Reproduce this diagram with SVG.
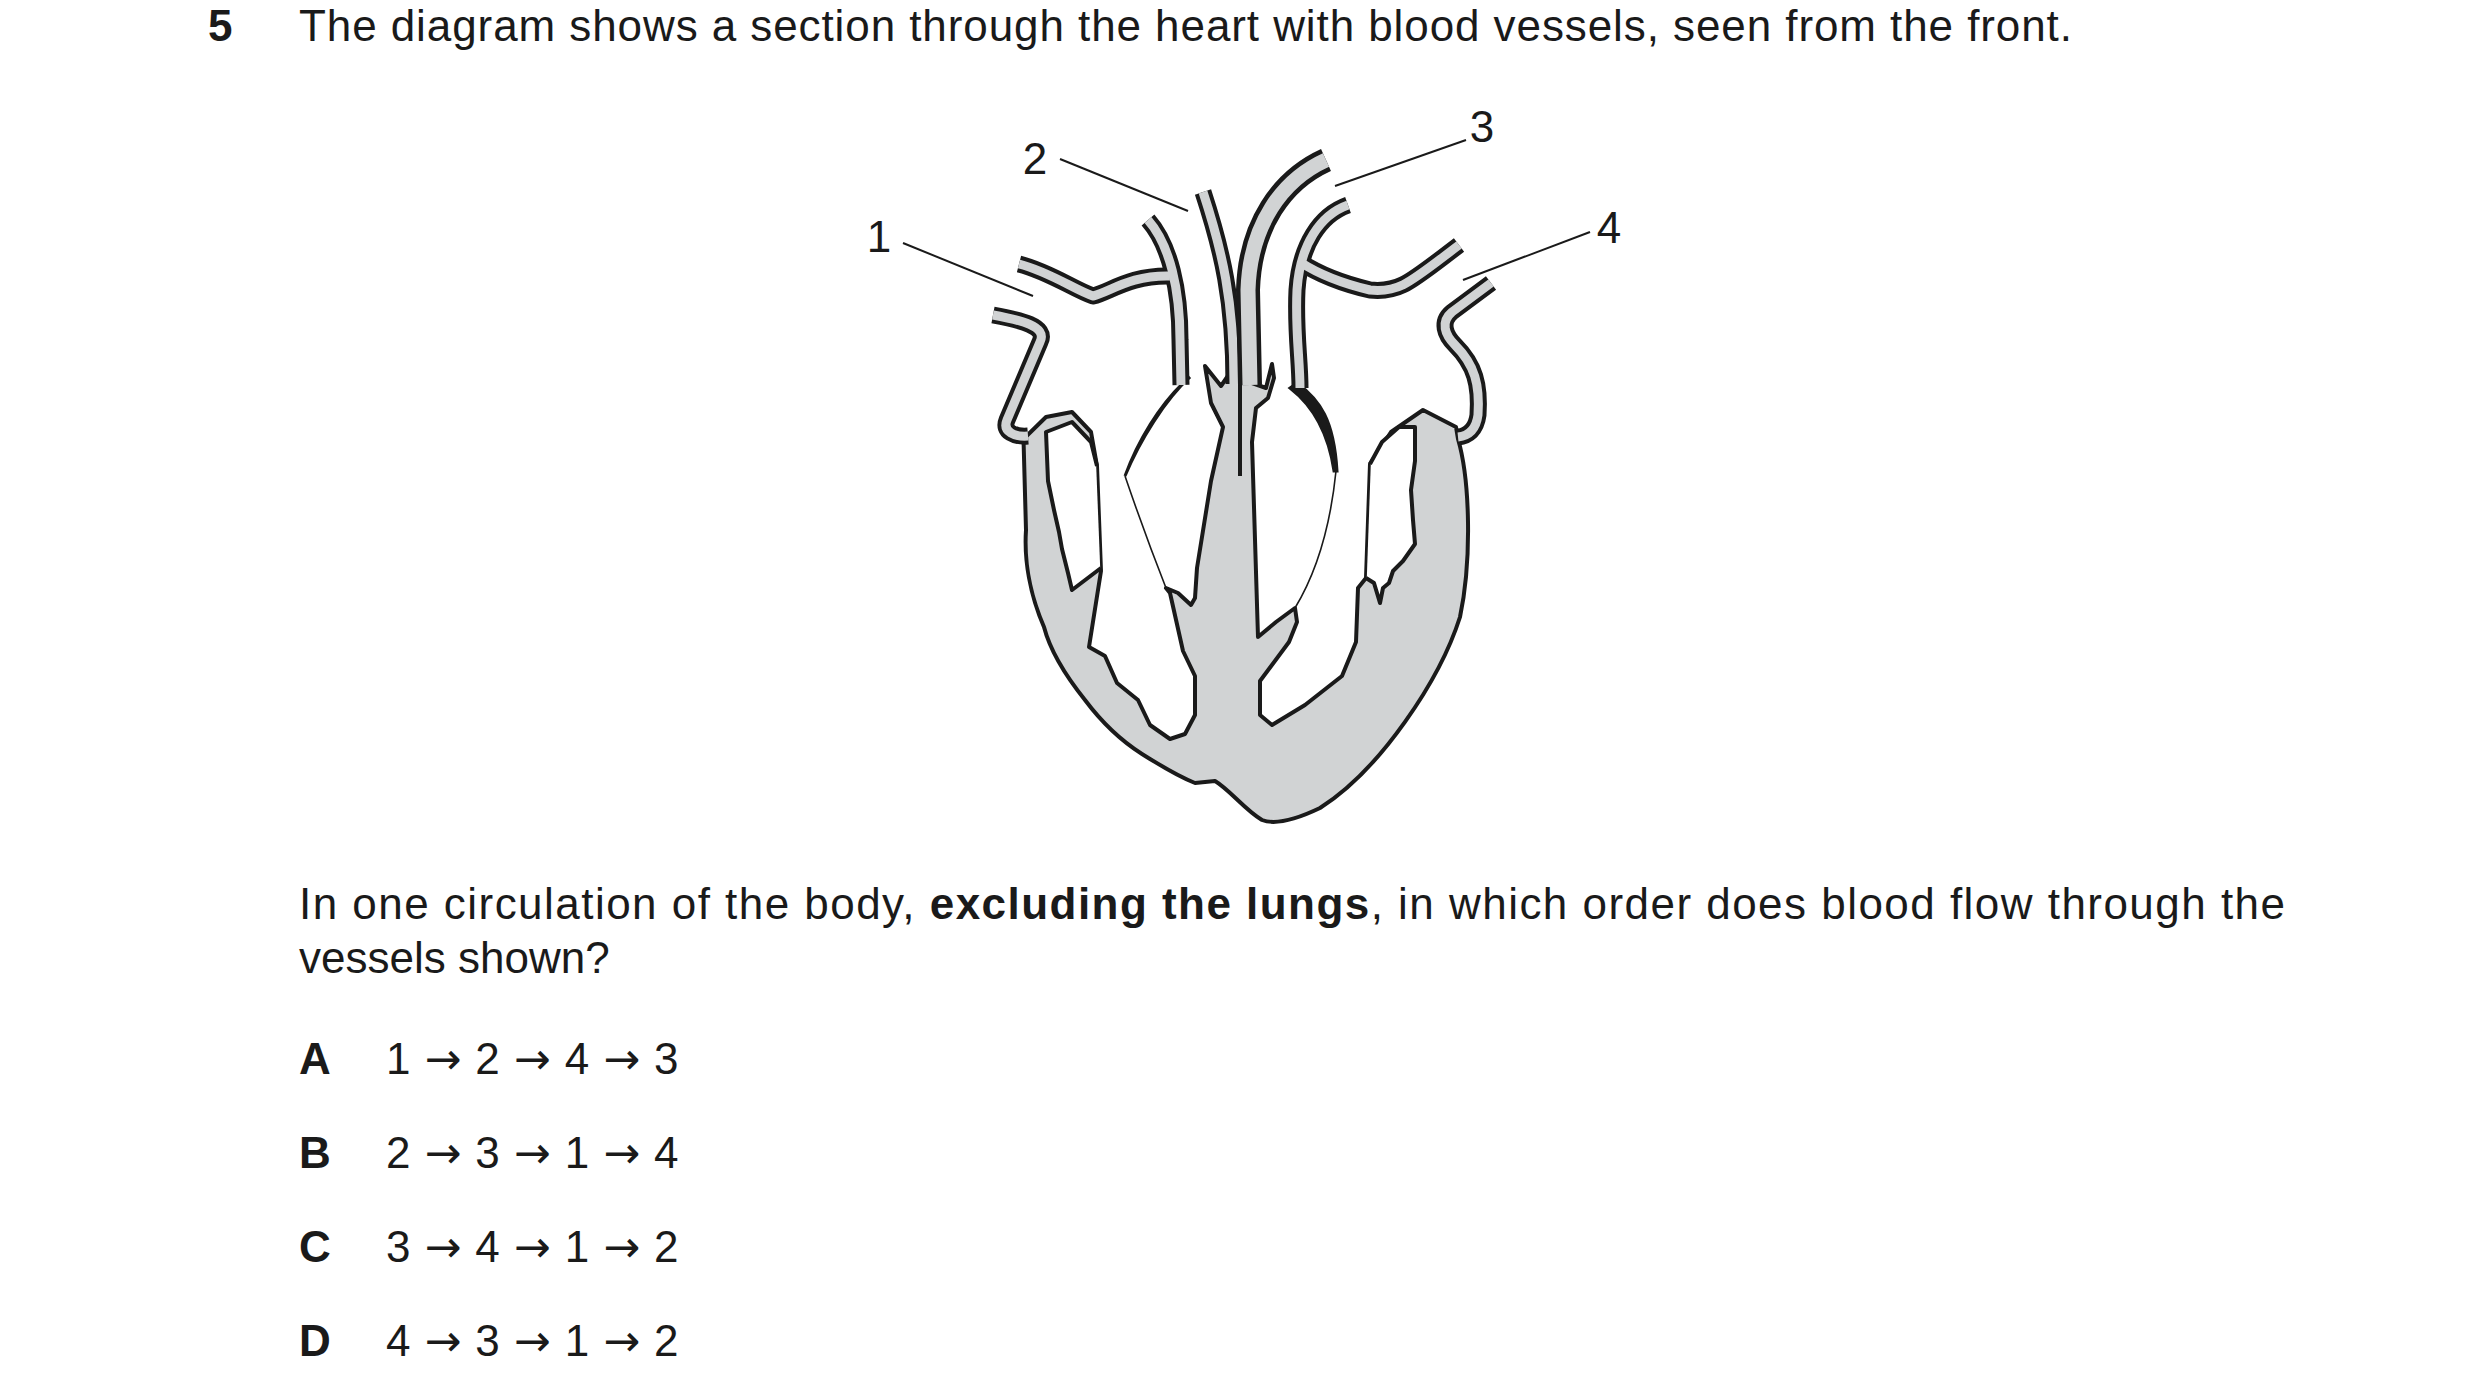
<svg xmlns="http://www.w3.org/2000/svg" width="2480" height="1390" viewBox="0 0 2480 1390">
<style>
text{font-family:"Liberation Sans",Arial,sans-serif;font-size:44px;fill:#1a1a1a}
.b{font-weight:bold}
.ar{font-family:"DejaVu Sans",sans-serif}
.tubeo{fill:none;stroke:#1a1a1a;stroke-width:17;stroke-linejoin:round}
.tubei{fill:none;stroke:#d1d3d4;stroke-width:9;stroke-linejoin:round}
.body{fill:#d1d3d4;stroke:#1a1a1a;stroke-width:4;stroke-linejoin:round}
.hole{fill:#fff;stroke:none}
.ol{fill:none;stroke:#1a1a1a;stroke-width:4;stroke-linejoin:round}
.thin{fill:none;stroke:#1a1a1a;stroke-width:1.6}
.lead{stroke:#1a1a1a;stroke-width:2}
</style>
<rect width="2480" height="1390" fill="#fff"/>
<text class="b" x="208" y="41">5</text>
<text x="299" y="41" textLength="1773" lengthAdjust="spacing">The diagram shows a section through the heart with blood vessels, seen from the front.</text>

<g id="heart">
<path class="body" d="M1023.5,439 L1046,417 L1072,412 L1091,432 L1097,466 L1101,571 L1089,647 L1105,656 L1117,683 L1138,700 L1150,725 L1170,739 L1185,734 L1195,715 L1195,676 L1183,651 L1170,593 L1166,588 L1178,593 L1191,605 L1195,598 L1197,568 L1211,481 L1223,427 L1211,403 L1205,366 L1221,386 L1236,364 L1252,383 L1266,388 L1272,364 L1274,378 L1268,398 L1256,408 L1252,442 L1258,637 L1276,622 L1295,608 L1297,622 L1289,642 L1260,681 L1260,715 L1272,725 L1305,705 L1342,676 L1356,642 L1358,588 L1366,578 L1370,464 L1391,432 L1423,410 L1456,427 L1458,439 C1470,480 1472,560 1460,617 C1440,680 1380,770 1320,808 C1295,820 1275,825 1262,820 C1245,810 1230,790 1215,781 L1195,783 C1175,775 1160,765 1142,754 C1120,740 1100,720 1085,700 C1065,675 1050,650 1044,627 C1030,595 1024,560 1026,530 Z"/>
<path class="hole" d="M1046,432 L1072,422 L1091,442 L1097,466 L1101,568 L1072,590 L1068,573 L1062,549 L1059,532 L1054,510 L1048,481 Z"/>
<path class="ol" d="M1101,568 L1072,590 L1068,573 L1062,549 L1059,532 L1054,510 L1048,481 L1046,432 L1072,422 L1091,442 L1097,466"/>
<path class="thin" d="M1097,466 L1101,568"/>
<path class="hole" d="M1370,464 L1382,442 L1399,427 L1415,427 L1415,461 L1411,490 L1413,520 L1415,544 L1403,561 L1393,571 L1389,583 L1383,588 L1380,603 L1374,583 L1366,578 Z"/>
<path class="ol" d="M1370,464 L1382,442 L1399,427 L1415,427 L1415,461 L1411,490 L1413,520 L1415,544 L1403,561 L1393,571 L1389,583 L1383,588 L1380,603 L1374,583 L1366,578"/>
<path class="thin" d="M1370,464 L1366,578"/>
<path class="thin" d="M1125,476 C1140,520 1155,560 1166,588"/>
<path class="thin" d="M1336,471 C1330,530 1315,575 1295,608"/>
<path d="M1183,383 L1190,377 C1165,400 1140,440 1125,476 C1138,440 1160,405 1183,383 Z" fill="#d1d3d4" stroke="#1a1a1a" stroke-width="3"/>
<path d="M1297,383 C1320,400 1334,420 1337,471 L1334,471 C1328,430 1312,405 1290,388 Z" fill="#1a1a1a" stroke="#1a1a1a" stroke-width="3"/>
<path class="thin" d="M1240,300 L1240,476" style="stroke-width:4"/>
</g>

<g id="vessels">
<g id="vessel-1">
<path class="tubeo" d="M1019,264 C1050,272 1075,290 1093,296 C1110,292 1130,275 1170,276"/>
<path class="tubeo" d="M1148,220 C1170,245 1180,290 1180,340 L1181,385"/>
<path class="tubei" d="M1019,264 C1050,272 1075,290 1093,296 C1110,292 1130,275 1170,276"/>
<path class="tubei" d="M1148,220 C1170,245 1180,290 1180,340 L1181,385"/>
</g>
<g id="vessel-lower-left">
<path class="tubeo" d="M993,315 C1020,320 1048,326 1040,342 L1007,420 C1002,432 1015,437 1028,436"/>
<path class="tubei" d="M993,315 C1020,320 1048,326 1040,342 L1007,420 C1002,432 1015,437 1028,436"/>
</g>
<g id="vessel-2">
<path class="tubeo" d="M1203,192 C1222,250 1234,300 1234,384"/>
<path class="tubei" d="M1203,192 C1222,250 1234,300 1234,384"/>
</g>
<g id="vessel-aorta">
<path class="tubeo" d="M1326,160 C1282,180 1250,225 1248,290 L1250,385" style="stroke-width:24"/>
<path class="tubei" d="M1326,160 C1282,180 1250,225 1248,290 L1250,385" style="stroke-width:15"/>
</g>
<g id="vessel-3">
<path class="tubeo" d="M1348,205 C1320,215 1300,245 1297,290 C1295,330 1300,360 1300,388"/>
<path class="tubeo" d="M1300,262 C1320,275 1340,283 1370,290 C1400,293 1410,282 1459,245"/>
<path class="tubei" d="M1348,205 C1320,215 1300,245 1297,290 C1295,330 1300,360 1300,388"/>
<path class="tubei" d="M1300,262 C1320,275 1340,283 1370,290 C1400,293 1410,282 1459,245"/>
</g>
<g id="vessel-4">
<path class="tubeo" d="M1491,283 L1452,312 C1440,322 1445,335 1455,345 C1475,365 1480,385 1478,415 C1476,430 1468,436 1458,437"/>
<path class="tubei" d="M1491,283 L1452,312 C1440,322 1445,335 1455,345 C1475,365 1480,385 1478,415 C1476,430 1468,436 1458,437"/>
</g>
</g>

<g id="labels">
<line class="lead" x1="903" y1="243" x2="1033" y2="296"/>
<line class="lead" x1="1060" y1="159" x2="1188" y2="211"/>
<line class="lead" x1="1466" y1="140" x2="1335" y2="186"/>
<line class="lead" x1="1590" y1="232" x2="1463" y2="280"/>
<text x="879" y="252" text-anchor="middle">1</text>
<text x="1035" y="174" text-anchor="middle">2</text>
<text x="1482" y="142" text-anchor="middle">3</text>
<text x="1609" y="243" text-anchor="middle">4</text>
</g>

<text x="299" y="919" textLength="1986" lengthAdjust="spacing">In one circulation of the body, <tspan class="b">excluding the lungs</tspan>, in which order does blood flow through the</text>
<text x="299" y="973">vessels shown?</text>
<text class="b" x="299" y="1074">A</text><text x="386" y="1074">1<tspan class="ar"> → </tspan>2<tspan class="ar"> → </tspan>4<tspan class="ar"> → </tspan>3</text>
<text class="b" x="299" y="1168">B</text><text x="386" y="1168">2<tspan class="ar"> → </tspan>3<tspan class="ar"> → </tspan>1<tspan class="ar"> → </tspan>4</text>
<text class="b" x="299" y="1262">C</text><text x="386" y="1262">3<tspan class="ar"> → </tspan>4<tspan class="ar"> → </tspan>1<tspan class="ar"> → </tspan>2</text>
<text class="b" x="299" y="1356">D</text><text x="386" y="1356">4<tspan class="ar"> → </tspan>3<tspan class="ar"> → </tspan>1<tspan class="ar"> → </tspan>2</text>
</svg>
